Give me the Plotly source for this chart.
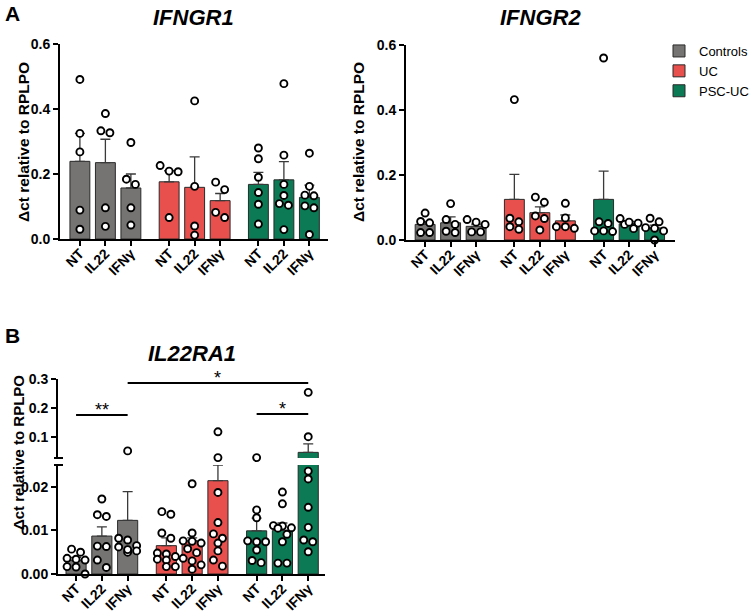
import plotly.graph_objects as go

W, H = 752, 616

groups = ["Controls", "UC", "PSC-UC"]
treatments = ["NT", "IL22", "IFNγ"]
group_colors = ["#767473", "#e8504d", "#0b7a55"]

# ---------------- IFNGR1 ----------------
ifngr1_mean = [[0.239, 0.235, 0.157], [0.176, 0.159, 0.118], [0.168, 0.182, 0.128]]
ifngr1_sem = [[0.086, 0.072, 0.043], [0.034, 0.094, 0.022], [0.037, 0.056, 0.038]]
ifngr1_points = [
    [[0.491, 0.325, 0.268, 0.089, 0.030],
     [0.386, 0.327, 0.333, 0.096, 0.039],
     [0.297, 0.168, 0.184, 0.096, 0.043]],
    [[0.226, 0.207, 0.209, 0.066],
     [0.425, 0.162, 0.040, 0.012],
     [0.175, 0.152, 0.066, 0.082]],
    [[0.280, 0.247, 0.190, 0.143, 0.107, 0.046],
     [0.478, 0.258, 0.168, 0.134, 0.109, 0.104, 0.029],
     [0.264, 0.162, 0.135, 0.133, 0.102, 0.096, 0.014]],
]

# ---------------- IFNGR2 ----------------
ifngr2_mean = [[0.048, 0.053, 0.042], [0.125, 0.084, 0.059], [0.125, 0.050, 0.037]]
ifngr2_sem = [[0.009, 0.018, 0.007], [0.077, 0.018, 0.018], [0.087, 0.007, 0.009]]
ifngr2_points = [
    [[0.083, 0.053, 0.057, 0.023, 0.023],
     [0.112, 0.063, 0.048, 0.023, 0.027],
     [0.055, 0.063, 0.048, 0.025, 0.025]],
    [[0.432, 0.056, 0.067, 0.033, 0.041],
     [0.132, 0.116, 0.074, 0.066, 0.031],
     [0.113, 0.068, 0.041, 0.036, 0.041]],
    [[0.560, 0.051, 0.056, 0.028, 0.026, 0.028],
     [0.048, 0.055, 0.052, 0.066, 0.035],
     [0.067, 0.056, 0.038, 0.036, 0.028, 0.0]],
]

# ---------------- IL22RA1 ----------------
il22ra1_mean = [[0.0031, 0.0087, 0.0123], [0.0065, 0.0076, 0.0214], [0.0099, 0.0100, 0.047]]
il22ra1_sem = [[0.0007, 0.0021, 0.0066], [0.0018, 0.0007, 0.0036], [0.0029, 0.0017, 0.029]]
il22ra1_points = [
    [[0.0057, 0.0050, 0.0034, 0.0036, 0.0032, 0.0017, 0.0016, 0.0],
     [0.0172, 0.0132, 0.0136, 0.0063, 0.0064, 0.0032, 0.0015],
     [0.052, 0.0082, 0.0078, 0.0065, 0.0062, 0.0050, 0.0053, 0.0056]],
    [[0.0137, 0.0143, 0.0082, 0.0094, 0.0048, 0.0040, 0.0046, 0.0032, 0.0034, 0.0017, 0.0017],
     [0.0207, 0.0094, 0.0076, 0.0075, 0.0071, 0.0058, 0.0049, 0.0036, 0.0030, 0.0011, 0.0021],
     [0.118, 0.029, 0.0187, 0.0118, 0.0082, 0.0092, 0.0071, 0.0053, 0.0032, 0.0018]],
    [[0.029, 0.0147, 0.0129, 0.0076, 0.0074, 0.0074, 0.0055, 0.0026, 0.0031],
     [0.0188, 0.0161, 0.0106, 0.0111, 0.0110, 0.0091, 0.0074, 0.0025, 0.0025, 0.0105],
     [0.254, 0.101, 0.0236, 0.0218, 0.0153, 0.0107, 0.0078, 0.0074, 0.0051]],
]
# significance brackets: (group_a, treat_a), (group_b, treat_b), label, height
sig_pairs = [((0, 0), (0, 2), "**", 0.176),
             ((0, 2), (2, 2), "*", 0.286),
             ((2, 0), (2, 2), "*", 0.179)]

y_ticks_A = [0.0, 0.2, 0.4, 0.6]
y_ticks_B_low = [0.00, 0.01, 0.02]
y_ticks_B_high = [0.1, 0.2, 0.3]

FONT = "Liberation Sans, Arial, sans-serif"
GROUP_STEP = 3.5
BAR_W = 0.78


def pos(g, t):
    return g * GROUP_STEP + t


def swarm(vals, px_per_unit, px_per_x, d=9.0, max_row=3):
    order = sorted(range(len(vals)), key=lambda i: -vals[i])
    rows, cur = [], []
    for i in order:
        if cur and abs(vals[cur[0]] - vals[i]) * px_per_unit < d * 0.85 and len(cur) < max_row:
            cur.append(i)
        else:
            if cur:
                rows.append(cur)
            cur = [i]
    if cur:
        rows.append(cur)
    off = [0.0] * len(vals)
    for r in rows:
        n = len(r)
        for k, i in enumerate(r):
            off[i] = (k - (n - 1) / 2) * d / px_per_x
    return off


def px_x(p):
    return p / W


def px_y(p):
    return 1 - p / H


fig = go.Figure()

panels = [
    dict(mean=ifngr1_mean, sem=ifngr1_sem, pts=ifngr1_points, xa="x", ya="y",
         ppu=325.0, ppx=25.5, legend=True),
    dict(mean=ifngr2_mean, sem=ifngr2_sem, pts=ifngr2_points, xa="x2", ya="y2",
         ppu=326.0, ppx=25.5, legend=False),
]

bar_line = dict(color="#2a2a2a", width=1)
err_style = dict(color="#3a3a3a", thickness=1.3, width=5)
pt_marker = dict(symbol="circle", size=7, color="white", line=dict(color="black", width=1.9))

for p in panels:
    for g in range(3):
        fig.add_trace(go.Bar(
            x=[pos(g, t) for t in range(3)], y=p["mean"][g],
            error_y=dict(type="data", array=p["sem"][g], arrayminus=[0, 0, 0], symmetric=False, **err_style),
            marker=dict(color=group_colors[g], line=bar_line), width=BAR_W,
            name=groups[g], legendgroup=groups[g], showlegend=p["legend"],
            xaxis=p["xa"], yaxis=p["ya"]))
    xs, ys = [], []
    for g in range(3):
        for t in range(3):
            vals = p["pts"][g][t]
            offs = swarm(vals, p["ppu"], p["ppx"])
            xs += [pos(g, t) + o for o in offs]
            ys += vals
    fig.add_trace(go.Scatter(x=xs, y=ys, mode="markers", marker=pt_marker, cliponaxis=False,
                             showlegend=False, xaxis=p["xa"], yaxis=p["ya"], hoverinfo="skip"))

# Panel B: broken axis (lower y3, upper y4)
LOW_TOP = 0.025
for ya in ["y3", "y4"]:
    for g in range(3):
        fig.add_trace(go.Bar(
            x=[pos(g, t) for t in range(3)], y=il22ra1_mean[g],
            error_y=dict(type="data", array=il22ra1_sem[g], arrayminus=[0, 0, 0], symmetric=False, **err_style),
            marker=dict(color=group_colors[g], line=bar_line), width=BAR_W,
            name=groups[g], legendgroup=groups[g], showlegend=False,
            xaxis="x3", yaxis=ya))
xl, yl, xh, yh = [], [], [], []
for g in range(3):
    for t in range(3):
        vals = il22ra1_points[g][t]
        low = [v for v in vals if v <= LOW_TOP]
        high = [v for v in vals if v > LOW_TOP]
        for o, v in zip(swarm(low, 4350.0, 25.8), low):
            xl.append(pos(g, t) + o); yl.append(v)
        for o, v in zip(swarm(high, 290.0, 25.8), high):
            xh.append(pos(g, t) + o); yh.append(v)
fig.add_trace(go.Scatter(x=xl, y=yl, mode="markers", marker=pt_marker, cliponaxis=False,
                         showlegend=False, xaxis="x3", yaxis="y3", hoverinfo="skip"))
fig.add_trace(go.Scatter(x=xh, y=yh, mode="markers", marker=pt_marker, cliponaxis=False,
                         showlegend=False, xaxis="x3", yaxis="y4", hoverinfo="skip"))

tickvals = [pos(g, t) for g in range(3) for t in range(3)]
ticktext = [f"<b>{treatments[t]}</b>" for g in range(3) for t in range(3)]

axis_common = dict(showline=True, linecolor="black", linewidth=2, ticks="outside", ticklen=5,
                   tickwidth=2, tickcolor="black", showgrid=False, zeroline=False,
                   tickfont=dict(family=FONT, size=14, color="black"))

xcommon = dict(axis_common, tickvals=tickvals, ticktext=ticktext, tickangle=-45,
               ticklabelstandoff=-6)

fig.update_layout(
    width=W, height=H, margin=dict(l=0, r=0, t=0, b=0, autoexpand=False),
    paper_bgcolor="white", plot_bgcolor="rgba(0,0,0,0)",
    barmode="overlay", font=dict(family=FONT, color="black"),
    xaxis=dict(xcommon, domain=[px_x(60), px_x(328)], range=[-0.78, 9.73], anchor="y"),
    yaxis=dict(axis_common, domain=[px_y(239), px_y(44)], range=[0, 0.6], anchor="x",
               tickvals=y_ticks_A, ticktext=[f"<b>{v:.1f}</b>" for v in y_ticks_A]),
    xaxis2=dict(xcommon, domain=[px_x(406), px_x(675)], range=[-0.75, 9.8], anchor="y2"),
    yaxis2=dict(axis_common, domain=[px_y(240), px_y(45)], range=[0, 0.6], anchor="x2",
                tickvals=y_ticks_A, ticktext=[f"<b>{v:.1f}</b>" for v in y_ticks_A]),
    xaxis3=dict(xcommon, domain=[px_x(58), px_x(325)], range=[-0.7, 9.65], anchor="y3"),
    yaxis3=dict(axis_common, domain=[px_y(574), px_y(465)], range=[0, LOW_TOP], anchor="x3",
                tickvals=y_ticks_B_low, ticktext=[f"<b>{v:.2f}</b>" for v in y_ticks_B_low]),
    yaxis4=dict(axis_common, domain=[px_y(458), px_y(379)], range=[0.0276, 0.3], anchor="x3",
                tickvals=y_ticks_B_high, ticktext=[f"<b>{v:.1f}</b>" for v in y_ticks_B_high]),
    legend=dict(x=px_x(659), y=px_y(36), xanchor="left", yanchor="top",
                font=dict(family=FONT, size=13, color="black"), tracegroupgap=0,
                bgcolor="rgba(0,0,0,0)", itemclick=False),
)

annotations = [
    dict(text="<b>A</b>", x=px_x(3), y=px_y(0), xanchor="left", yanchor="top", font=dict(size=21)),
    dict(text="<b>B</b>", x=px_x(3), y=px_y(322), xanchor="left", yanchor="top", font=dict(size=21)),
    dict(text="<b><i>IFNGR1</i></b>", x=px_x(193), y=px_y(17), font=dict(size=22)),
    dict(text="<b><i>IFNGR2</i></b>", x=px_x(540), y=px_y(17), font=dict(size=22)),
    dict(text="<b><i>IL22RA1</i></b>", x=px_x(192), y=px_y(353), font=dict(size=22)),
    dict(text="<b>Δct relative to RPLPO</b>", x=px_x(23), y=px_y(142), textangle=-90, font=dict(size=15.5)),
    dict(text="<b>Δct relative to RPLPO</b>", x=px_x(358), y=px_y(142), textangle=-90, font=dict(size=15.5)),
    dict(text="<b>Δct relative to RPLPO</b>", x=px_x(18), y=px_y(453), textangle=-90, font=dict(size=15)),
]
for a in annotations:
    a.setdefault("xanchor", "center")
    a.setdefault("yanchor", "middle")
    a.update(xref="paper", yref="paper", showarrow=False)
    a["font"] = dict(a["font"], family=FONT, color="black")

shapes = []
for (ga, ta), (gb, tb), label, h in sig_pairs:
    x0, x1 = pos(ga, ta), pos(gb, tb)
    shapes.append(dict(type="line", xref="x3", yref="y4", x0=x0, x1=x1, y0=h, y1=h,
                       line=dict(color="black", width=2)))
    annotations.append(dict(text=label, x=(x0 + x1) / 2, y=h, xref="x3", yref="y4",
                            showarrow=False, yanchor="bottom", yshift=-7,
                            font=dict(family=FONT, size=18, color="black")))

# axis break marks
for yb in (458, 465):
    shapes.append(dict(type="line", xref="paper", yref="paper", x0=px_x(54), x1=px_x(63),
                       y0=px_y(yb), y1=px_y(yb), line=dict(color="black", width=2)))

fig.update_layout(annotations=annotations, shapes=shapes)

fig.write_html("out.html", config={"displayModeBar": False},
               post_script="document.body.style.margin='0px';")
